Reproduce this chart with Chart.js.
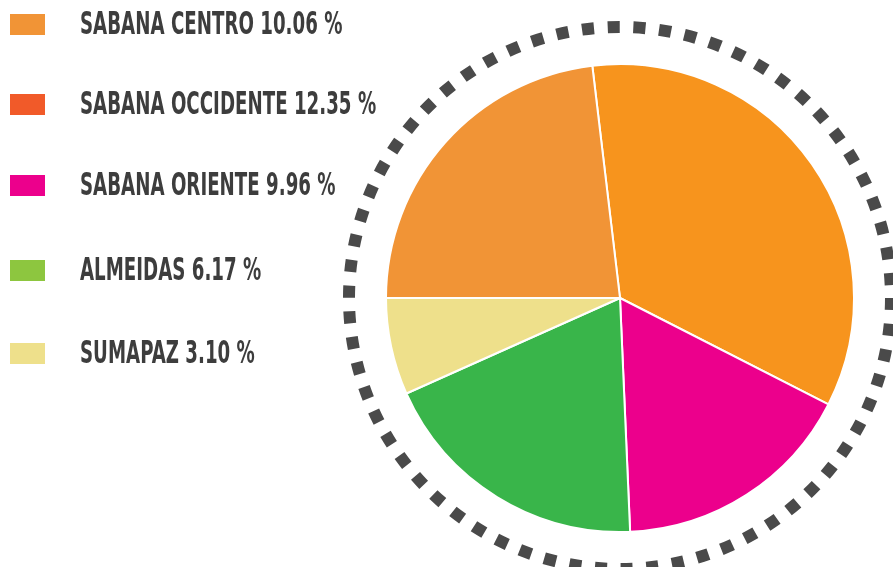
<!DOCTYPE html>
<html>
<head>
<meta charset="utf-8">
<script src="https://cdn.jsdelivr.net/npm/chart.js@4.4.1/dist/chart.umd.min.js"></script>
<style>
  html, body { margin: 0; padding: 0; background: #fff; }
  #wrap { position: relative; width: 893px; height: 567px; }
  #legend { position: absolute; left: 0; top: 0; margin: 0; padding: 0; list-style: none; }
  #legend li { position: absolute; left: 0; height: 40px; white-space: nowrap; }
  #legend .box { position: absolute; left: 10px; top: 10px; width: 35px; height: 21px; }
  #legend .txt {
    position: absolute; left: 80px; top: 0; line-height: 40px;
    font-family: "DejaVu Sans Condensed", sans-serif;
    font-weight: bold; font-size: 25px; color: #3d3d3d;
    transform: scale(0.81, 1.28); transform-origin: left center;
  }
</style>
</head>
<body>
<div id="wrap">
  <canvas id="myChart" width="893" height="567"></canvas>
  <ul id="legend"></ul>
</div>
<script>
/*** data ***/
const legendLabels = ["SABANA CENTRO", "SABANA OCCIDENTE", "SABANA ORIENTE", "ALMEIDAS", "SUMAPAZ"];
const legendValues = ["10.06", "12.35", "9.96", "6.17", "3.10"];
const legendColors = ["#f19436", "#f15a29", "#ec008c", "#8dc63f", "#eee08b"];

// slices, clockwise from just left of 12 o'clock (share of the circle, %)
const sliceLabels = ["Sabana Occidente", "Sabana Oriente", "Almeidas", "Sumapaz", "Sabana Centro"];
const sliceValues = [34.4, 16.8, 19.0, 6.7, 23.1];
const sliceColors = ["#f7941d", "#ec008c", "#39b54a", "#eee08b", "#f19436"];

/*** html legend ***/
const legendEl = document.getElementById("legend");
const rowTops = [4, 84, 165, 250, 333];
legendLabels.forEach(function (name, i) {
  const li = document.createElement("li");
  li.style.top = rowTops[i] + "px";
  li.innerHTML = '<span class="box" style="background:' + legendColors[i] + '"></span>' +
    '<span class="txt">' + name + " " + legendValues[i] + " %</span>";
  legendEl.appendChild(li);
});

/*** dotted ring around the pie ***/
const dottedRing = {
  id: "dottedRing",
  afterDatasetsDraw(chart) {
    const arc = chart.getDatasetMeta(0).data[0];
    if (!arc) return;
    const ctx = chart.ctx;
    const r = arc.outerRadius + 37;
    const seg = (2 * Math.PI * r) / 66;
    ctx.save();
    ctx.beginPath();
    ctx.arc(arc.x, arc.y, r, 0, Math.PI * 2);
    ctx.lineWidth = 12;
    ctx.strokeStyle = "#4a4a4a";
    ctx.setLineDash([seg * 0.47, seg * 0.53]);
    ctx.stroke();
    ctx.restore();
  },
};

const ctx = document.getElementById("myChart").getContext("2d");
const chart = new Chart(ctx, {
  type: "pie",
  data: {
    labels: sliceLabels,
    datasets: [
      {
        data: sliceValues,
        backgroundColor: sliceColors,
        borderColor: "#ffffff",
        borderWidth: 2,
      },
    ],
  },
  options: {
    responsive: false,
    animation: false,
    rotation: -6.8,
    layout: { padding: { left: 385, right: 38, top: 63, bottom: 34 } },
    plugins: {
      legend: { display: false },
      tooltip: { enabled: false },
    },
  },
  plugins: [dottedRing],
});
</script>
</body>
</html>
